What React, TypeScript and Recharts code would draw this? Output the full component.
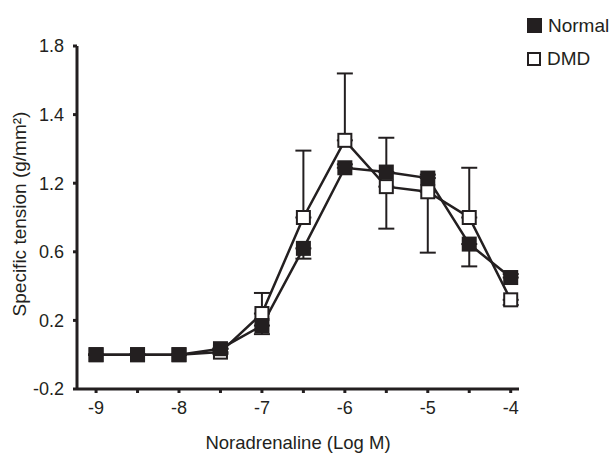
import { LineChart, Line, XAxis, YAxis, ErrorBar } from "recharts";

// Noradrenaline dose (log M)
const doses = [-9, -8.5, -8, -7.5, -7, -6.5, -6, -5.5, -5, -4.5, -4];

// specific tension, plotted on the figure's own (evenly spaced) axis
const normal = [0, 0, 0, 0.035, 0.17, 0.62, 1.09, 1.065, 1.03, 0.645, 0.45];
const normalLow = [0, 0, 0, 0, 0.05, 0.06, 0, 0, 0, 0.13, 0];
const normalHigh = [0, 0, 0, 0, 0, 0, 0.02, 0.2, 0.02, 0, 0.02];

const dmd = [0, 0, 0, 0.015, 0.24, 0.8, 1.25, 0.98, 0.95, 0.8, 0.32];
const dmdLow = [0, 0, 0, 0.01, 0, 0, 0, 0.245, 0.355, 0, 0.03];
const dmdHigh = [0, 0, 0, 0, 0.12, 0.39, 0.39, 0, 0, 0.29, 0];

const xTicks = [-9, -8.5, -8, -7.5, -7, -6.5, -6, -5.5, -5, -4.5, -4];
const yTicks = [-0.2, 0.2, 0.6, 1.0, 1.4, 1.8];
// labels as printed on the original figure
const yTickLabels = ["-0.2", "0.2", "0.6", "1.2", "1.4", "1.8"];

const series = [
  { name: "Normal", filled: true },
  { name: "DMD", filled: false },
];

const data = doses.map((x, i) => ({
  x,
  normal: normal[i],
  normalErr: [normalLow[i], normalHigh[i]],
  dmd: dmd[i],
  dmdErr: [dmdLow[i], dmdHigh[i]],
}));

const INK = "#231f20";
const FONT = "'Liberation Sans', Arial, sans-serif";

const FilledSquare = (props: any) => {
  const { cx, cy, index } = props;
  return <rect key={`n-${index}`} x={cx - 7.5} y={cy - 7.5} width={15} height={15} fill={INK} />;
};

const OpenSquare = (props: any) => {
  const { cx, cy, index } = props;
  return (
    <rect key={`d-${index}`} x={cx - 6.5} y={cy - 6.5} width={13} height={13} fill="#fff" stroke={INK} strokeWidth={2} />
  );
};

const YLabel = () => (
  <text
    x={19}
    y={214}
    transform="rotate(-90, 19, 214)"
    textAnchor="middle"
    dominantBaseline="central"
    fill={INK}
    fontSize={19}
    fontFamily={FONT}
  >
    Specific tension (g/mm²)
  </text>
);

export default function App() {
  return (
    <div style={{ position: "absolute", left: 0, top: 0, width: 612, height: 455, background: "#fff" }}>
      <LineChart width={612} height={455} data={data} margin={{ top: 46, right: 93, bottom: 0, left: 0 }}>
        <XAxis
          dataKey="x"
          type="number"
          domain={[-9.23, -3.9]}
          ticks={xTicks}
          tickFormatter={(v: number) => (Number.isInteger(v) ? String(v) : "")}
          height={66}
          stroke={INK}
          strokeWidth={3}
          tickSize={4}
          tickMargin={8}
          tick={{ fill: INK, fontSize: 18, fontFamily: FONT }}
          label={{ value: "Noradrenaline (Log M)", position: "insideBottom", offset: 6, fill: INK, fontSize: 18.5, fontFamily: FONT }}
        />
        <YAxis
          type="number"
          domain={[-0.2, 1.8]}
          ticks={yTicks}
          tickFormatter={(_v: number, i: number) => yTickLabels[i]}
          width={77}
          stroke={INK}
          strokeWidth={3}
          tickSize={4}
          tickMargin={9}
          tick={{ fill: INK, fontSize: 18, fontFamily: FONT }}
          label={{ content: <YLabel /> }}
        />
        <Line dataKey="dmd" name="DMD" stroke={INK} strokeWidth={2.5} dot={<OpenSquare />} isAnimationActive={false}>
          <ErrorBar dataKey="dmdErr" width={8} strokeWidth={2} stroke={INK} direction="y" />
        </Line>
        <Line dataKey="normal" name="Normal" stroke={INK} strokeWidth={2.5} dot={<FilledSquare />} isAnimationActive={false}>
          <ErrorBar dataKey="normalErr" width={8} strokeWidth={2} stroke={INK} direction="y" />
        </Line>
      </LineChart>
      <div style={{ position: "absolute", left: 527, top: 9, fontFamily: FONT, fontSize: 19, color: INK }}>
        {series.map((s) => (
          <div key={s.name} style={{ display: "flex", alignItems: "center", height: 33 }}>
            <span
              style={{
                display: "inline-block",
                boxSizing: "border-box",
                width: s.filled ? 15 : 14,
                height: s.filled ? 15 : 14,
                background: s.filled ? INK : "#fff",
                border: s.filled ? "none" : `2px solid ${INK}`,
                marginRight: 6,
              }}
            />
            {s.name}
          </div>
        ))}
      </div>
    </div>
  );
}
